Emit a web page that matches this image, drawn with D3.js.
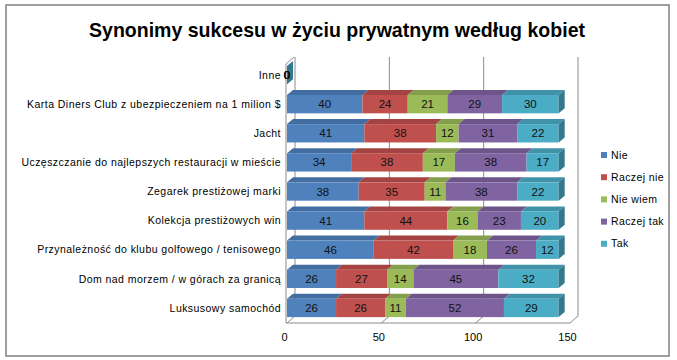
<!DOCTYPE html>
<html><head><meta charset="utf-8">
<script src="https://cdn.jsdelivr.net/npm/d3@7"></script>
<style>html,body{margin:0;padding:0;background:#fff}svg{display:block}</style>
</head><body>
<svg id="c" width="677" height="360"></svg>
<script>
const title = "Synonimy sukcesu w życiu prywatnym według kobiet";
const categories = [
  "Inne",
  "Karta Diners Club z ubezpieczeniem na 1 milion $",
  "Jacht",
  "Uczęszczanie do najlepszych restauracji w mieście",
  "Zegarek prestiżowej marki",
  "Kolekcja prestiżowych win",
  "Przynależność do klubu golfowego / tenisowego",
  "Dom nad morzem / w górach za granicą",
  "Luksusowy samochód"
];
const seriesNames = ["Nie", "Raczej nie", "Nie wiem", "Raczej tak", "Tak"];
const nie       = [0, 40, 41, 34, 38, 41, 46, 26, 26];
const raczejNie = [0, 24, 38, 38, 35, 44, 42, 27, 26];
const nieWiem   = [0, 21, 12, 17, 11, 16, 18, 14, 11];
const raczejTak = [0, 29, 31, 38, 38, 23, 26, 45, 52];
const tak       = [0, 30, 22, 17, 22, 20, 12, 32, 29];
const xTicks = [0, 50, 100, 150];
const colors = ["#4F81BD", "#C0504D", "#9BBB59", "#8064A2", "#4BACC6"];

const seriesValues = [nie, raczejNie, nieWiem, raczejTak, tak];
const rows = categories.map((c, i) => {
  const o = {cat: c};
  seriesNames.forEach((s, k) => o[s] = seriesValues[k][i]);
  return o;
});
const stacked = d3.stack().keys(seriesNames)(rows);

const svg = d3.select("#c");
const font = "'Liberation Sans', Arial, sans-serif";

// outer border
svg.append("rect").attr("x", 6).attr("y", 5).attr("width", 663).attr("height", 351)
  .attr("fill", "#fff").attr("stroke", "#7f7f7f").attr("stroke-width", 1.5);

// title
svg.append("text").attr("x", 337).attr("y", 37).attr("text-anchor", "middle")
  .attr("font-family", "'Liberation Sans Narrow', 'Liberation Sans', Arial, sans-serif")
  .attr("font-weight", "bold").attr("font-size", 21).attr("fill", "#000")
  .attr("textLength", 496).attr("lengthAdjust", "spacingAndGlyphs")
  .text(title);

const x = d3.scaleLinear().domain([0, 150]).range([287, 570]);
const y = d3.scaleBand().domain(categories).range([60.5, 322.5]).paddingInner(0.37).paddingOuter(0.185);
const wdx = 8, wdy = -7;   // wall depth
const bdx = 6, bdy = -5;   // bar depth
const floorY = 323, topY = 64;

// walls / gridlines
const g = svg.append("g");
const gridColor = "#8c8c8c";
g.append("line").attr("x1", x(0) - 1).attr("x2", x(0) - 1).attr("y1", topY).attr("y2", floorY)
  .attr("stroke", gridColor);
g.append("line").attr("x1", x(0) - 1).attr("y1", topY).attr("x2", x(0) - 1 + wdx).attr("y2", topY + wdy)
  .attr("stroke", gridColor);
xTicks.forEach(t => {
  g.append("line").attr("x1", x(t) + wdx).attr("x2", x(t) + wdx)
    .attr("y1", topY + wdy).attr("y2", floorY + wdy).attr("stroke", gridColor);
  g.append("line").attr("x1", x(t)).attr("y1", floorY).attr("x2", x(t) + wdx).attr("y2", floorY + wdy)
    .attr("stroke", gridColor);
});
g.append("line").attr("x1", x(0) - 1).attr("x2", x(150)).attr("y1", floorY).attr("y2", floorY)
  .attr("stroke", gridColor);

// bars
const bars = svg.append("g");
const nS = seriesNames.length;
categories.forEach((cat, i) => {
  const y0 = y(cat), h = y.bandwidth();
  stacked.forEach((s, k) => {
    const d = s[i];
    const xa = x(d[0]), xb = x(d[1]);
    const c = colors[k];
    bars.append("polygon")
      .attr("points", [[xa, y0], [xa + bdx, y0 + bdy], [xb + bdx, y0 + bdy], [xb, y0]].join(" "))
      .attr("fill", d3.color(c).darker(0.45));
    bars.append("rect").attr("x", xa).attr("y", y0).attr("width", Math.max(0, xb - xa)).attr("height", h)
      .attr("fill", c);
    if (k === nS - 1) {
      bars.append("polygon")
        .attr("points", [[xb, y0], [xb + bdx, y0 + bdy], [xb + bdx, y0 + h + bdy], [xb, y0 + h]].join(" "))
        .attr("fill", d3.color(c).darker(1.0));
    }
  });
  stacked.forEach((s, k) => {
    const d = s[i];
    bars.append("text")
      .attr("x", (x(d[0]) + x(d[1])) / 2).attr("y", y0 + h / 2 + 4)
      .attr("text-anchor", "middle").attr("font-family", font).attr("font-size", 11.5)
      .attr("fill", "#111").text(d.data[seriesNames[k]]);
  });
});

// category labels
const yAxis = d3.axisLeft(y).tickSize(0).tickPadding(5);
const ya = svg.append("g").attr("transform", `translate(${x(0) - 1},0)`).call(yAxis);
ya.select(".domain").remove();
ya.selectAll("text").attr("font-family", font).attr("font-size", 10.5).attr("fill", "#000")
  .attr("letter-spacing", "0.45px").attr("dy", "0.35em");

// x axis labels
const xAxis = d3.axisBottom(x).tickValues(xTicks).tickSize(0).tickPadding(8);
const xa = svg.append("g").attr("transform", `translate(-3,${floorY + 2})`).call(xAxis);
xa.select(".domain").remove();
xa.selectAll("text").attr("font-family", font).attr("font-size", 11).attr("fill", "#000");

// legend
const lg = svg.append("g");
seriesNames.forEach((s, k) => {
  const ly = 155 + k * 22.2;
  lg.append("rect").attr("x", 601).attr("y", ly - 3).attr("width", 6).attr("height", 6).attr("fill", colors[k]);
  lg.append("text").attr("x", 611).attr("y", ly + 3.5).attr("font-family", font).attr("font-size", 10.5)
    .attr("letter-spacing", "0.4px").attr("fill", "#000").text(s);
});
</script>
</body></html>
